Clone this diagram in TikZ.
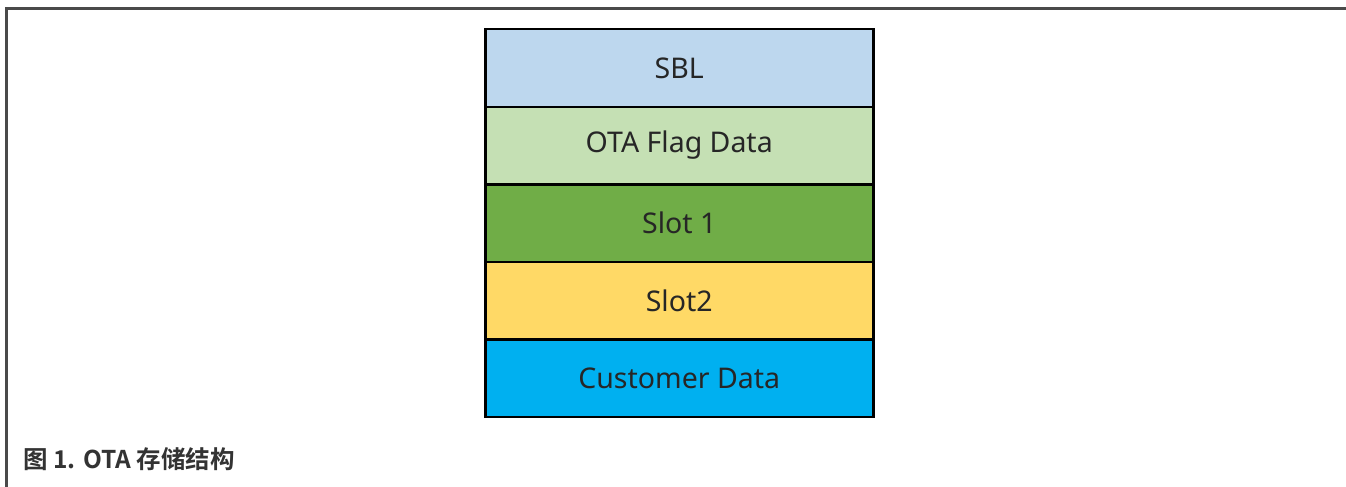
\documentclass[tikz,border=0pt]{standalone}
\usepackage{fontspec}
\setmainfont{Noto Sans}
\newfontfamily\cjkbold[BoldFont={Noto Sans CJK SC Bold}]{Noto Sans CJK SC}
\definecolor{frameC}{HTML}{4A4A4A}
\definecolor{sblC}{HTML}{BDD7EE}
\definecolor{otaC}{HTML}{C5E0B4}
\definecolor{slotoneC}{HTML}{70AD47}
\definecolor{slottwoC}{HTML}{FFD966}
\definecolor{custC}{HTML}{00B0F0}
\definecolor{txtC}{HTML}{262626}
\definecolor{capC}{HTML}{333333}
\tikzset{
  layer/.style={draw=black, line width=2.5pt, minimum width=388pt, minimum height=77.5pt,
    inner sep=0pt, text=txtC, font=\fontsize{28.5}{32}\selectfont, anchor=north west},
}
\begin{document}
\begin{tikzpicture}[x=1pt,y=-1pt]
\useasboundingbox (0,0) rectangle (1346,487);
\fill[white] (0,0) rectangle (1346,487);
% outer frame (top and left only)
\draw[frameC, line width=3pt] (6.5,487) -- (6.5,9) -- (1346,9);
% layers
\node[layer, fill=sblC] (sbl) at (484,28) {SBL};
\node[layer, fill=otaC] (ota) at (484,105.5) {OTA Flag Data};
\node[layer, fill=slotoneC] (s1) at (484,183) {Slot 1};
\node[layer, fill=slottwoC] (s2) at (484,260.5) {Slot2};
\node[layer, fill=custC] (cust) at (484,338) {Customer Data};
% caption
\node[anchor=west, inner sep=0pt, text=capC, font=\cjkbold\bfseries\fontsize{24.5}{28}\selectfont] (cap) at (23,459) {图 1. OTA 存储结构};
\end{tikzpicture}
\end{document}
